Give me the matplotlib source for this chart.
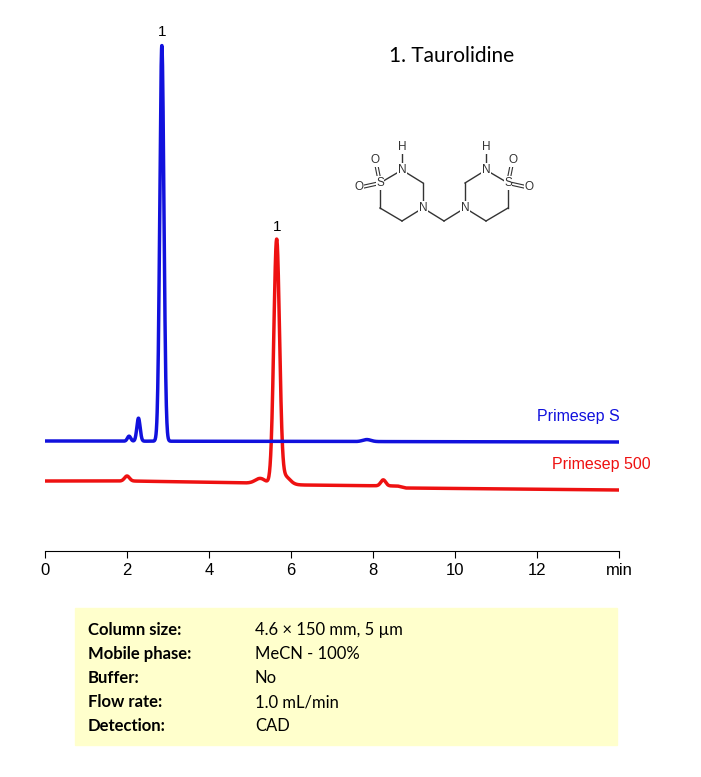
import numpy as np
import matplotlib
matplotlib.use("Agg")
import matplotlib.pyplot as plt

# peaks: (time, height, sigma)
blue_peaks = [(2.05, 5, 0.04), (2.28, 23, 0.04), (2.85, 396, 0.05), (7.85, 2, 0.1)]
red_peaks = [(2.0, 5, 0.06), (5.25, 5, 0.12), (5.65, 243, 0.07), (5.85, 8, 0.12), (8.25, 6, 0.06)]
blue_base_t = [0, 14]
blue_base_y = [110, 109]
red_base_t = [0, 2.1, 5.0, 6.3, 8.6, 8.8, 14]
red_base_y = [70, 70, 68, 66, 65, 63, 61]
x_ticks = [0, 2, 4, 6, 8, 10, 12, 14]
x_ticklabels = ["0", "2", "4", "6", "8", "10", "12", "min"]
conditions = ["Column size:", "Mobile phase:", "Buffer:", "Flow rate:", "Detection:"]
cond_values = ["4.6 \u00d7 150 mm, 5 \u00b5m", "MeCN - 100%", "No", "1.0 mL/min", "CAD"]

W, H = 701, 777
fig = plt.figure(figsize=(W / 100, H / 100), dpi=100)
font = "Lato"
afont = "Liberation Sans"

t = np.linspace(0, 14, 3000)


def trace(bt, by, peaks):
    y = np.interp(t, bt, by)
    for c, h, s in peaks:
        y = y + h * np.exp(-0.5 * ((t - c) / s) ** 2)
    return y


ax = fig.add_axes([45 / W, 1 - 551 / H, (619 - 45) / W, 531 / H])
ax.plot(t, trace(red_base_t, red_base_y, red_peaks), color="#ee1111", lw=2.5)
ax.plot(t, trace(blue_base_t, blue_base_y, blue_peaks), color="#1111dd", lw=2.5)
ax.set_xlim(0, 14)
ax.set_ylim(0, 531)
for s in ["top", "left", "right"]:
    ax.spines[s].set_visible(False)
ax.set_yticks([])
ax.set_xticks(x_ticks)
ax.set_xticklabels(x_ticklabels, fontsize=12, family=afont)
ax.tick_params(axis="x", direction="out", length=5)
ax.text(2.85, 512, "1", ha="center", va="bottom", fontsize=11, family=afont)
ax.text(5.65, 317, "1", ha="center", va="bottom", fontsize=11, family=afont)

# overlay in pixel coordinates
ov = fig.add_axes([0, 0, 1, 1])
ov.set_xlim(0, W)
ov.set_ylim(H, 0)
ov.axis("off")
ov.text(620, 416, "Primesep S", color="#1111dd", ha="right", va="center", fontsize=11.5, family=afont)
ov.text(651, 465, "Primesep 500", color="#ee1111", ha="right", va="center", fontsize=11.5, family=afont)
ov.text(452, 56, "1. Taurolidine", ha="center", va="center", fontsize=15, family=font)

# structure
bonds = [
    ((380, 183), (402, 170)), ((402, 170), (423, 183)), ((423, 183), (423, 208)),
    ((423, 208), (402, 221)), ((402, 221), (380, 208)), ((380, 208), (380, 183)),
    ((402, 170), (402, 150)),
    ((423, 208), (444, 221)), ((444, 221), (465, 208)),
    ((465, 208), (465, 183)), ((465, 183), (486, 170)), ((486, 170), (508, 183)),
    ((508, 183), (508, 208)), ((508, 208), (486, 221)), ((486, 221), (465, 208)),
    ((486, 170), (486, 150)),
]
for (x0, y0), (x1, y1) in bonds:
    ov.plot([x0, x1], [y0, y1], color="#333333", lw=1)
for dx in (-1.5, 1.5):
    ov.plot([380 + dx, 376 + dx], [183, 163], color="#333333", lw=0.8)
    ov.plot([508 + dx, 512 + dx], [183, 163], color="#333333", lw=0.8)
for dy in (-1.5, 1.5):
    ov.plot([380, 362], [183 + dy, 187 + dy], color="#333333", lw=0.8)
    ov.plot([508, 526], [183 + dy, 187 + dy], color="#333333", lw=0.8)
atoms = [("S", 380, 183), ("N", 402, 170), ("H", 402, 147), ("N", 423, 208),
         ("O", 375, 160), ("O", 359, 187), ("N", 465, 208), ("N", 486, 170),
         ("H", 486, 147), ("S", 508, 183), ("O", 513, 160), ("O", 529, 187)]
for a, x, y in atoms:
    ov.text(x, y, a, ha="center", va="center", fontsize=8.5, family=afont, color="#333333",
            bbox=dict(boxstyle="square,pad=0.05", fc="white", ec="none"))

# conditions box
ov.add_patch(plt.Rectangle((75, 608), 542, 137, color="#ffffcc", zorder=0))
for i, (k, v) in enumerate(zip(conditions, cond_values)):
    y = 630 + 24 * i
    ov.text(88, y, k, fontsize=12, fontweight="bold", family=font, va="center")
    ov.text(255, y, v, fontsize=12, family=font, va="center")

fig.savefig("out.png", dpi=100)
